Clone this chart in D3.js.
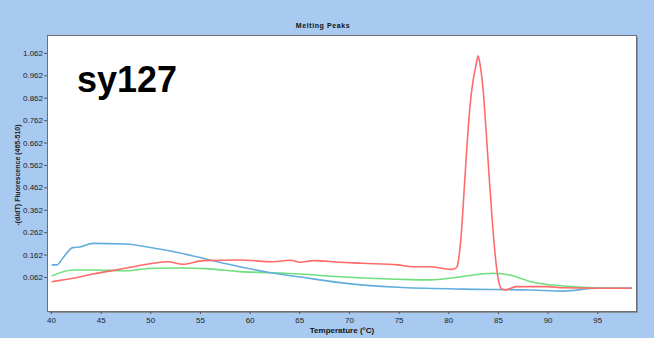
<!DOCTYPE html>
<html>
<head>
<meta charset="utf-8">
<script src="https://cdn.jsdelivr.net/npm/d3@7"></script>
<style>
  body { margin: 0; background: #a8caf0; }
  svg { display: block; }
</style>
</head>
<body>
<script>
// Melting peak curves (temperature in °C, -(d/dT) value)
const redTemp  = [40.07, 42.2, 44.2, 47.5, 50.3, 51.7, 53.3, 55.3, 59.0, 62.4, 64.1, 65.1, 66.4, 69.1, 71.4, 74.9, 76.5, 78.2, 80.2, 80.7,
                  80.9, 81.1, 81.3, 81.6, 81.9, 82.2, 82.5, 82.8, 83.0, 83.2, 83.5, 83.8, 84.1, 84.4, 84.7, 85.0, 85.3, 85.7, 86.2, 86.9, 90.0, 91.6, 95.0, 98.5];
const redVal   = [0.041, 0.056, 0.075, 0.101, 0.123, 0.130, 0.119, 0.135, 0.138, 0.130, 0.137, 0.128, 0.135, 0.128, 0.123, 0.116, 0.108, 0.108, 0.096, 0.100,
                  0.110, 0.160, 0.250, 0.450, 0.660, 0.830, 0.940, 1.010, 1.049, 1.010, 0.900, 0.720, 0.520, 0.330, 0.170, 0.060, 0.012, 0.004, 0.010, 0.019, 0.019, 0.014, 0.012, 0.012];

const greenTemp = [40.07, 42.2, 44.2, 47.5, 50.3, 53.0, 56.0, 59.0, 62.1, 65.1, 69.1, 74.9, 78.2, 80.9, 84.5, 86.2, 88.3, 91.6, 95.0, 98.5];
const greenVal  = [0.066, 0.093, 0.093, 0.090, 0.101, 0.102, 0.098, 0.086, 0.081, 0.075, 0.063, 0.052, 0.049, 0.061, 0.079, 0.071, 0.041, 0.022, 0.014, 0.012];

const blueTemp = [40.07, 40.6, 41.2, 42.2, 42.9, 44.2, 47.5, 50.3, 53.0, 56.0, 59.0, 62.1, 65.1, 69.1, 74.9, 81.5, 88.3, 91.6, 95.0, 98.5];
const blueVal  = [0.116, 0.116, 0.147, 0.193, 0.196, 0.212, 0.209, 0.191, 0.169, 0.138, 0.108, 0.081, 0.062, 0.037, 0.016, 0.008, 0.004, -0.001, 0.012, 0.012];

const xTicks = [40, 45, 50, 55, 60, 65, 70, 75, 80, 85, 90, 95];
const yTicks = [0.062, 0.162, 0.262, 0.362, 0.462, 0.562, 0.662, 0.762, 0.862, 0.962, 1.062];

const width = 654, height = 338;
const plotLeft = 47, plotRight = 636, plotTop = 35, plotBottom = 311;

const svg = d3.select('body').append('svg')
  .attr('width', width)
  .attr('height', height);

svg.append('rect')
  .attr('width', width).attr('height', height)
  .attr('fill', '#a8caf0');

const x = d3.scaleLinear().domain([39.6, 98.9]).range([plotLeft, plotRight]);
const y = d3.scaleLinear().domain([-0.0898, 1.142]).range([plotBottom, plotTop]);

// plot box with a grey shadow on the right and bottom
svg.append('rect')
  .attr('x', plotLeft + 2).attr('y', plotTop + 2)
  .attr('width', plotRight - plotLeft).attr('height', plotBottom - plotTop)
  .attr('fill', '#8a8f99');
svg.append('rect')
  .attr('x', plotLeft + 0.5).attr('y', plotTop + 0.5)
  .attr('width', plotRight - plotLeft).attr('height', plotBottom - plotTop)
  .attr('fill', '#fff')
  .attr('stroke', '#6b6f78');

svg.append('clipPath').attr('id', 'clip')
  .append('rect')
  .attr('x', plotLeft + 1).attr('y', plotTop + 1)
  .attr('width', plotRight - plotLeft - 1).attr('height', plotBottom - plotTop - 1);

// axes
const yAxis = svg.append('g')
  .attr('transform', `translate(${plotLeft},0)`)
  .call(d3.axisLeft(y).tickValues(yTicks).tickSize(3).tickPadding(1).tickFormat(d3.format('.3f')));
const xAxis = svg.append('g')
  .attr('transform', `translate(0,${plotBottom + 1})`)
  .call(d3.axisBottom(x).tickValues(xTicks).tickSize(2).tickPadding(3));

[yAxis, xAxis].forEach(g => {
  g.select('.domain').remove();
  g.selectAll('line').attr('stroke', '#555');
  g.selectAll('text')
    .attr('font-family', 'Liberation Sans Narrow, Liberation Sans, Arial, sans-serif')
    .attr('font-size', '8px')
    .attr('fill', '#222');
});

// curves
const line = d3.line()
  .x(d => x(d[0]))
  .y(d => y(d[1]))
  .curve(d3.curveMonotoneX);

const series = [
  { temp: greenTemp, val: greenVal, color: '#6ee07e' },
  { temp: blueTemp,  val: blueVal,  color: '#62aede' },
  { temp: redTemp,   val: redVal,   color: '#ff6b6b' }
];

svg.append('g')
  .attr('clip-path', 'url(#clip)')
  .selectAll('path')
  .data(series)
  .enter()
  .append('path')
  .attr('d', s => line(s.temp.map((t, i) => [t, s.val[i]])))
  .attr('fill', 'none')
  .attr('stroke', s => s.color)
  .attr('stroke-width', 1.6)
  .attr('stroke-linejoin', 'round');

// texts
svg.append('text')
  .attr('x', 323).attr('y', 28)
  .attr('text-anchor', 'middle')
  .attr('font-family', 'Liberation Sans, Arial, sans-serif')
  .attr('font-size', '7px')
  .attr('font-weight', 'bold')
  .attr('letter-spacing', '0.6px')
  .attr('fill', '#111')
  .text('Melting Peaks');

svg.append('text')
  .attr('x', 342).attr('y', 333)
  .attr('text-anchor', 'middle')
  .attr('font-family', 'Liberation Sans, Arial, sans-serif')
  .attr('font-size', '8px')
  .attr('font-weight', 'bold')
  .attr('fill', '#111')
  .text('Temperature (°C)');

svg.append('text')
  .attr('transform', 'translate(20,175) rotate(-90)')
  .attr('text-anchor', 'middle')
  .attr('font-family', 'Liberation Sans, Arial, sans-serif')
  .attr('font-size', '7px')
  .attr('font-weight', 'bold')
  .attr('fill', '#222')
  .text('-(d/dT) Fluorescence (465-510)');

svg.append('text')
  .attr('x', 77).attr('y', 92)
  .attr('font-family', 'Liberation Sans, Arial, sans-serif')
  .attr('font-size', '36px')
  .attr('font-weight', 'bold')
  .attr('fill', '#000')
  .text('sy127');
</script>
</body>
</html>
